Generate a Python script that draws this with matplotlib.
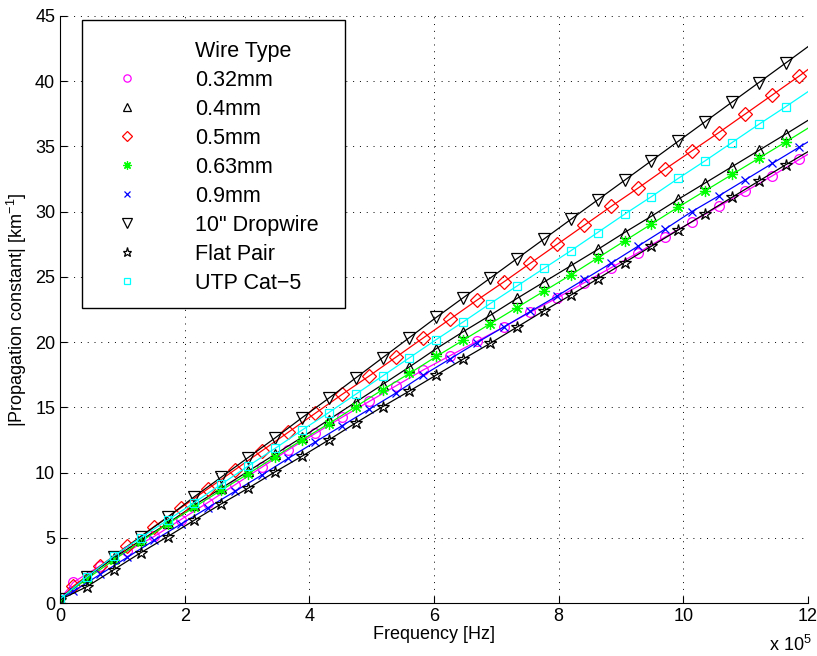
import numpy as np
import matplotlib
matplotlib.use("Agg")
from matplotlib import pyplot as plt
from matplotlib.lines import Line2D
from matplotlib.patches import Rectangle
from matplotlib.ticker import FuncFormatter

plt.rcParams['font.family'] = ['Liberation Sans', 'DejaVu Sans']
plt.rcParams['mathtext.fontset'] = 'custom'
plt.rcParams['mathtext.rm'] = 'Liberation Sans'
plt.rcParams['mathtext.it'] = 'Liberation Sans:italic'

# marker spacing: every 10th ADSL tone (4.3125 kHz)
step = 43125.0
f_max = 1.2e6
grid_a = np.arange(28) * step          # markers starting at 0
grid_b = (np.arange(28) + 0.5) * step  # markers shifted half a step

# |gamma| [1/km] at the marker positions
w032 = [1.6, 2.85, 3.95, 5.1, 6.4, 7.7, 9.05, 10.4, 11.75, 13.0, 14.25, 15.45, 16.65, 17.85,
        18.95, 20.05, 21.15, 22.3, 23.4, 24.55, 25.7, 26.85, 28.05, 29.2, 30.4, 31.55, 32.75, 34.0]
w04 = [0.3, 2.0, 3.45, 4.8, 6.1, 7.5, 8.8, 10.1, 11.4, 12.7, 14.05, 15.4, 16.75, 18.1,
       19.5, 20.8, 22.05, 23.35, 24.6, 25.85, 27.1, 28.4, 29.65, 30.95, 32.2, 33.45, 34.7, 35.95]
w05 = [1.3, 2.85, 4.35, 5.86, 7.3, 8.75, 10.2, 11.65, 13.1, 14.55, 16.0, 17.4, 18.85, 20.3,
       21.75, 23.2, 24.6, 26.05, 27.5, 28.95, 30.4, 31.8, 33.25, 34.65, 36.05, 37.5, 38.95, 40.4]
w063 = [0.3, 1.85, 3.3, 4.7, 6.05, 7.35, 8.65, 9.9, 11.2, 12.5, 13.75, 15.05, 16.35, 17.6,
        18.9, 20.15, 21.4, 22.65, 23.9, 25.15, 26.45, 27.75, 29.05, 30.35, 31.6, 32.85, 34.1, 35.35]
w09 = [0.9, 2.2, 3.5, 4.8, 6.05, 7.3, 8.55, 9.8, 11.1, 12.35, 13.6, 14.85, 16.1, 17.45,
       18.7, 19.95, 21.15, 22.35, 23.55, 24.8, 26.05, 27.35, 28.65, 30.0, 31.2, 32.45, 33.7, 34.95]
drop = [0.3, 2.0, 3.55, 5.08, 6.57, 8.15, 9.65, 11.15, 12.65, 14.2, 15.7, 17.25, 18.8, 20.35,
        21.9, 23.4, 24.9, 26.4, 27.9, 29.4, 30.9, 32.4, 33.9, 35.4, 36.9, 38.4, 39.9, 41.4]
flat = [0.25, 1.25, 2.55, 3.85, 5.08, 6.35, 7.6, 8.8, 10.05, 11.25, 12.5, 13.8, 15.05, 16.25,
        17.48, 18.7, 19.9, 21.15, 22.4, 23.6, 24.85, 26.1, 27.35, 28.6, 29.85, 31.1, 32.35, 33.6]
utp = [0.3, 2.0, 3.6, 5.0, 6.35, 7.7, 9.1, 10.5, 11.85, 13.25, 14.6, 16.0, 17.4, 18.8,
       20.2, 21.55, 22.95, 24.3, 25.65, 27.0, 28.4, 29.8, 31.15, 32.55, 33.9, 35.3, 36.7, 38.05]

# values at f = 0 and f = 1.2 MHz (line ends)
start_vals = [0.3, 0.3, 0.3, 0.3, 0.3, 0.3, 0.25, 0.3]
end_vals = [34.4, 37.0, 40.9, 36.4, 35.35, 42.65, 34.6, 39.2]

labels = ['0.32mm', '0.4mm', '0.5mm', '0.63mm', '0.9mm', '10" Dropwire', 'Flat Pair', 'UTP Cat\u22125']
series = [w032, w04, w05, w063, w09, drop, flat, utp]
shifted = [True, False, True, False, True, False, False, False]
colors = ['#ff00ff', 'k', '#ff0000', '#00ff00', '#0000ff', 'k', 'k', '#00ffff']
markers = ['o', '^', 'D', (8, 2, 0), 'x', 'v', '*', 's']
msizes = [7, 7, 7, 8, 6, 9, 9, 5.5]

fig = plt.figure(figsize=(8.17, 6.56), dpi=100)
ax = fig.add_axes([60 / 817, 1 - 603 / 656, 748 / 817, 587 / 656])

for y, sh, c, m, ms, y0, y1 in zip(series, shifted, colors, markers, msizes, start_vals, end_vals):
    xm = grid_b if sh else grid_a
    xl = np.concatenate([[0.0], xm, [f_max]]) if sh else np.concatenate([xm, [f_max]])
    yl = [y0] + list(y) + [y1] if sh else list(y) + [y1]
    ax.plot(xl, yl, color=c, lw=0.9)
    ax.plot(xm, y, linestyle='none', marker=m, ms=ms, mfc='none', mec=c, mew=0.9)

ax.set_xlim(0, f_max)
ax.set_ylim(0, 45)
ax.set_xticks(np.arange(0, 12.1e5, 2e5))
ax.set_yticks(np.arange(0, 46, 5))
ax.xaxis.set_major_formatter(FuncFormatter(lambda v, p: '%g' % (v / 1e5)))
ax.tick_params(direction='in', length=5, labelsize=13, width=0.8)
ax.grid(True, linestyle=(0, (1, 6)), color='k', lw=0.7)
ax.spines['top'].set_visible(False)
ax.spines['right'].set_visible(False)
ax.set_xlabel('Frequency [Hz]', fontsize=13, labelpad=1)
ax.set_ylabel('|Propagation constant| [km$^{-1}$]', fontsize=13, labelpad=4)
ax.text(0.976, -0.072, 'x 10$^5$', transform=ax.transAxes, ha='center', va='center', fontsize=13)

# legend, MATLAB style: heading row + marker-only entries
handles = [Line2D([], [], linestyle='none', marker='none')]
for c, m, ms in zip(colors, markers, msizes):
    handles.append(Line2D([], [], linestyle='none', marker=m, ms=ms * 0.75, mfc='none', mec=c, mew=0.9))
leg = ax.legend(handles, ['Wire Type'] + labels, loc='upper left', frameon=False,
                bbox_to_anchor=(0.029, 0.972), borderaxespad=0, borderpad=0.4,
                fontsize=15.5, handlelength=3.39, handletextpad=1.47, labelspacing=0.37)
ax.add_patch(Rectangle((22 / 748, (603 - 308) / 587), 263 / 748, 288 / 587,
                       transform=ax.transAxes, fill=True, fc='white', ec='k', lw=1.0, zorder=4))
leg.set_zorder(5)

fig.savefig('out.png', dpi=100)
